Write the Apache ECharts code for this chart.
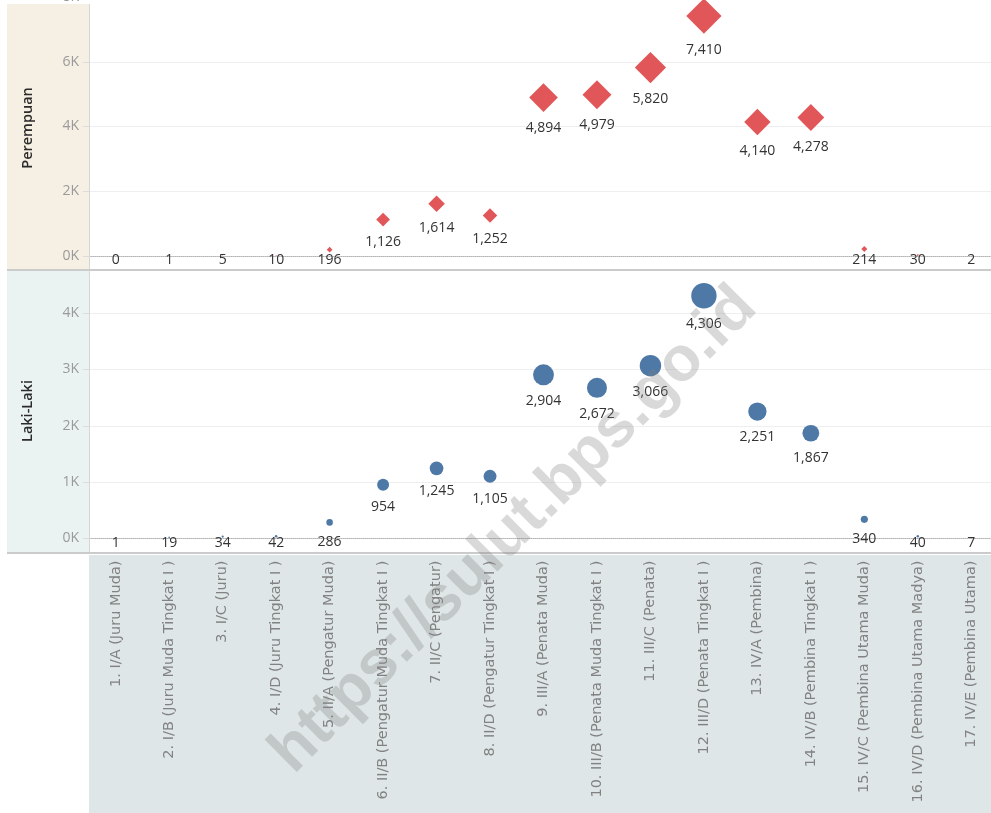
<!DOCTYPE html>
<html>
<head>
<meta charset="utf-8">
<script src="https://cdn.jsdelivr.net/npm/echarts@6/dist/echarts.min.js"></script>
<style>
  html, body { margin: 0; padding: 0; background: #fff; }
  #chart { width: 991px; height: 813px; }
</style>
</head>
<body>
<div id="chart"></div>
<script>
var golongan = [
	'1. I/A (Juru Muda)', '2. I/B (Juru Muda Tingkat I )', '3. I/C (Juru)', '4. I/D (Juru Tingkat I )',
	'5. II/A (Pengatur Muda)', '6. II/B (Pengatur Muda Tingkat I )', '7. II/C (Pengatur)',
	'8. II/D (Pengatur Tingkat I )', '9. III/A (Penata Muda)', '10. III/B (Penata Muda Tingkat I )',
	'11. III/C (Penata)', '12. III/D (Penata Tingkat I )', '13. IV/A (Pembina)',
	'14. IV/B (Pembina Tingkat I )', '15. IV/C (Pembina Utama Muda)', '16. IV/D (Pembina Utama Madya)',
	'17. IV/E (Pembina Utama)'
];
var perempuan = [0, 1, 5, 10, 196, 1126, 1614, 1252, 4894, 4979, 5820, 7410, 4140, 4278, 214, 30, 2];
var lakiLaki = [1, 19, 34, 42, 286, 954, 1245, 1105, 2904, 2672, 3066, 4306, 2251, 1867, 340, 40, 7];
var rowNames = ['Perempuan', 'Laki-Laki'];
var watermark = 'https://sulut.bps.go.id';

var FONT = '"Open Sans", sans-serif';
var WIDE = '"DejaVu Sans", sans-serif';
var RED = '#e15759';
var BLUE = '#4e79a7';

// mark size grows with sqrt of value (area ~ value); diamonds draw a bit larger than circles
function sizeBy(k) {
	return function (v) {
		return k * Math.sqrt(Math.max(v, 0));
	};
}

function fmtK(v) {
	return (v / 1000) + 'K';
}

// keep labels inside the pane, like Tableau pushes them up at the bottom edge
var paneLimit = [267, 550];
function keepInside(params) {
	var r = params.labelRect;
	var over = r.y + r.height - paneLimit[params.seriesIndex];
	return over > 0 ? { dy: -over } : {};
}

function labelOpt() {
	return {
		show: true, position: 'bottom', distance: 9,
		color: '#333', fontSize: 14,
		formatter: function (p) { return p.value.toLocaleString('en-US'); }
	};
}

function yAxisFor(idx, max, step) {
	return {
		type: 'value',
		gridIndex: idx,
		min: 0,
		max: max,
		interval: step,
		axisLine: { show: false },
		axisTick: { show: true, length: 6, lineStyle: { color: '#dcdcdc' } },
		axisLabel: { color: '#9a9a9a', fontSize: 14, margin: 10, formatter: fmtK, fontFamily: FONT },
		splitLine: { lineStyle: { color: '#efefef', width: 1 } }
	};
}

var chart = echarts.init(document.getElementById('chart'));

var option = {
	animation: false,
	textStyle: { fontFamily: FONT },
	grid: [
		{ left: 89, top: -3, width: 909, height: 259, outerBoundsMode: 'none' },
		{ left: 89, top: 313, width: 909, height: 225.5, outerBoundsMode: 'none' },
		{ left: 89, top: 555, width: 909, height: 258, outerBoundsMode: 'none' }
	],
	xAxis: [
		{
			type: 'category', gridIndex: 0, data: golongan,
			axisLine: { lineStyle: { color: '#b5b5b5', type: 'dotted' } },
			axisTick: { show: false }, axisLabel: { show: false }
		},
		{
			type: 'category', gridIndex: 1, data: golongan,
			axisLine: { lineStyle: { color: '#b5b5b5', type: 'dotted' } },
			axisTick: { show: false },
			axisLabel: { rotate: 90, margin: 22, color: '#828282', fontSize: 14.5, interval: 0, fontFamily: WIDE }
		},
		{
			type: 'category', gridIndex: 2, data: golongan, position: 'top',
			axisLine: { show: false },
			axisTick: { show: true, inside: true, length: 6, lineStyle: { color: '#f7f9f9' } },
			axisLabel: { show: false }
		}
	],
	yAxis: [
		yAxisFor(0, 8000, 2000),
		yAxisFor(1, 4000, 1000),
		{ type: 'value', gridIndex: 2, show: false }
	],
	series: [
		{
			name: rowNames[0],
			type: 'scatter',
			xAxisIndex: 0, yAxisIndex: 0,
			data: perempuan,
			symbol: 'diamond',
			symbolSize: sizeBy(0.41),
			clip: false,
			itemStyle: { color: RED, opacity: 1 },
			label: labelOpt(),
			labelLayout: keepInside
		},
		{
			name: rowNames[1],
			type: 'scatter',
			xAxisIndex: 1, yAxisIndex: 1,
			data: lakiLaki,
			symbol: 'circle',
			symbolSize: sizeBy(0.387),
			clip: false,
			itemStyle: { color: BLUE, opacity: 1 },
			label: labelOpt(),
			labelLayout: keepInside
		}
	],
	graphic: [
		// row header strips and label area
		{ type: 'rect', shape: { x: 7, y: 4, width: 82, height: 265 }, style: { fill: '#f5efe4' }, z: -10, silent: true },
		{ type: 'rect', shape: { x: 7, y: 271, width: 82, height: 281 }, style: { fill: '#eaf3f2' }, z: -10, silent: true },
		{ type: 'rect', shape: { x: 89, y: 555, width: 902, height: 258 }, style: { fill: '#dfe6e7' }, z: -10, silent: true },
		{ type: 'line', shape: { x1: 89.5, y1: 4, x2: 89.5, y2: 553 }, style: { stroke: '#d6d6d6', lineWidth: 1 }, z: 5, silent: true },
		{ type: 'line', shape: { x1: 7, y1: 270, x2: 991, y2: 270 }, style: { stroke: '#cbcbcb', lineWidth: 2 }, z: 5, silent: true },
		{ type: 'line', shape: { x1: 7, y1: 553, x2: 991, y2: 553 }, style: { stroke: '#cbcbcb', lineWidth: 2 }, z: 5, silent: true },
		{
			type: 'text', x: 28, y: 128, rotation: Math.PI / 2, silent: true,
			style: { text: rowNames[0], fill: '#2b2b2b', font: '600 14.5px ' + FONT, align: 'center', verticalAlign: 'middle' }
		},
		{
			type: 'text', x: 28, y: 411, rotation: Math.PI / 2, silent: true,
			style: { text: rowNames[1], fill: '#2b2b2b', font: '600 14.5px ' + FONT, align: 'center', verticalAlign: 'middle' }
		},
		{
			type: 'text', x: 514, y: 530, rotation: Math.PI / 4, silent: true, z: 100,
			style: {
				text: watermark, fill: 'rgba(128,128,128,0.3)',
				font: 'bold 63px "Liberation Sans", sans-serif', align: 'center', verticalAlign: 'middle'
			}
		}
	]
};

chart.setOption(option);
</script>
</body>
</html>
